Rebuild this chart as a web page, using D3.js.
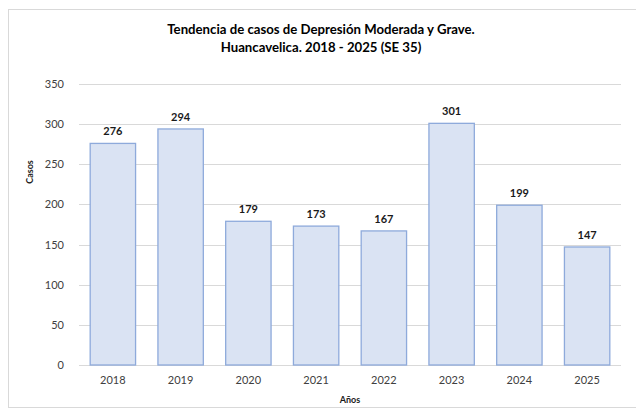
<!DOCTYPE html>
<html>
<head>
<meta charset="utf-8">
<script src="https://cdn.jsdelivr.net/npm/d3@7"></script>
<style>
  body { margin: 0; background: #fff; }
  svg { display: block; font-family: Lato, "Open Sans", sans-serif; }
</style>
</head>
<body>
<svg id="chart" width="636" height="414"></svg>
<script>
const years = ["2018", "2019", "2020", "2021", "2022", "2023", "2024", "2025"];
const cases = [276, 294, 179, 173, 167, 301, 199, 147];
const yTicks = [0, 50, 100, 150, 200, 250, 300, 350];
const titleLines = ["Tendencia de casos de Depresión Moderada y Grave.", "Huancavelica. 2018 - 2025 (SE 35)"];

const svg = d3.select("#chart");
const W = 636, H = 414;
const m = { left: 79, right: 15, top: 84, bottom: 49 };

// chart frame
svg.append("rect")
  .attr("x", 8.5).attr("y", 9.5).attr("width", W + 10).attr("height", 398)
  .attr("fill", "none").attr("stroke", "#d9d9d9").attr("stroke-width", 1);

const x = d3.scaleBand().domain(years).range([m.left, W - m.right]).paddingInner(0.33).paddingOuter(0.165);
const y = d3.scaleLinear().domain([0, 350]).range([H - m.bottom, m.top]);

// gridlines
svg.append("g").selectAll("line").data(yTicks).join("line")
  .attr("x1", m.left).attr("x2", W - m.right)
  .attr("y1", d => Math.round(y(d)) + 0.5).attr("y2", d => Math.round(y(d)) + 0.5)
  .attr("stroke", "#d9d9d9").attr("stroke-width", 1);

// y axis labels
const yAxis = d3.axisLeft(y).tickValues(yTicks).tickSize(0).tickPadding(15);
svg.append("g").attr("transform", `translate(${m.left},0)`).call(yAxis)
  .call(g => g.select(".domain").remove())
  .call(g => g.selectAll("text").attr("font-size", 11).attr("fill", "#404040").attr("font-family", "Lato, sans-serif"));

// x axis labels
const xAxis = d3.axisBottom(x).tickSize(0).tickPadding(11);
svg.append("g").attr("transform", `translate(0,${H - m.bottom})`).call(xAxis)
  .call(g => g.select(".domain").remove())
  .call(g => g.selectAll("text").attr("font-size", 11).attr("fill", "#404040").attr("font-family", "Lato, sans-serif"));

// bars
svg.append("g").selectAll("rect").data(years).join("rect")
  .attr("x", d => x(d)).attr("width", x.bandwidth())
  .attr("y", (d, i) => y(cases[i])).attr("height", (d, i) => y(0) - y(cases[i]))
  .attr("fill", "#dae3f3").attr("stroke", "#8eaadb").attr("stroke-width", 1.3);

// value labels
svg.append("g").selectAll("text").data(years).join("text")
  .attr("x", d => x(d) + x.bandwidth() / 2)
  .attr("y", (d, i) => y(cases[i]) - 8)
  .attr("text-anchor", "middle").attr("font-size", 11).attr("font-weight", "bold").attr("fill", "#1a1a1a")
  .text((d, i) => cases[i]);

// title
svg.append("g").selectAll("text").data(titleLines).join("text")
  .attr("x", 321).attr("y", (d, i) => 34 + i * 18)
  .attr("text-anchor", "middle").attr("font-size", 13.2).attr("font-weight", "bold").attr("fill", "#000")
  .text(d => d);

// axis titles
svg.append("text").attr("transform", "translate(33,172) rotate(-90)")
  .attr("text-anchor", "middle").attr("font-size", 9).attr("font-weight", "bold").attr("fill", "#1a1a1a")
  .text("Casos");
svg.append("text").attr("x", 350).attr("y", 403)
  .attr("text-anchor", "middle").attr("font-size", 9).attr("font-weight", "bold").attr("fill", "#1a1a1a")
  .text("Años");
</script>
</body>
</html>
